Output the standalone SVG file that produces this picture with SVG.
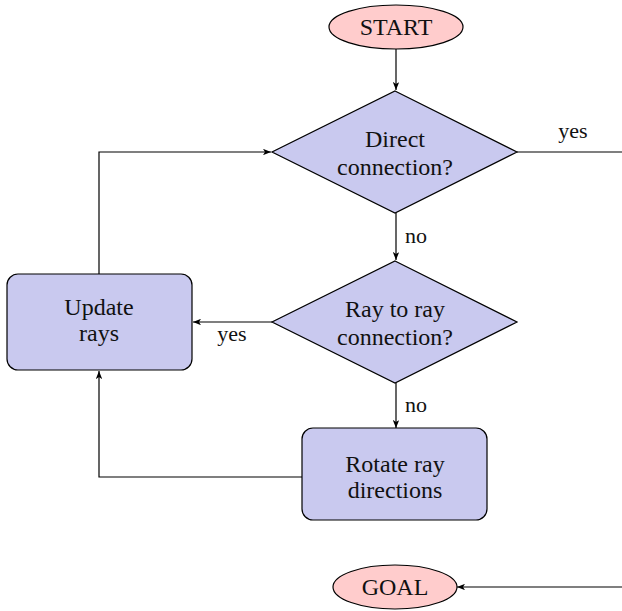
<svg xmlns="http://www.w3.org/2000/svg" width="622" height="611" viewBox="0 0 622 611" font-family="'Liberation Serif', 'DejaVu Serif', 'Times New Roman', serif">
<defs>
<marker id="ah" viewBox="0 0 10 8" refX="10" refY="4" markerWidth="8" markerHeight="6.4" markerUnits="userSpaceOnUse" orient="auto">
<path d="M0,0 L10,4 L0,8 L2.5,4 Z" fill="#000"/>
</marker>
<style>
text{font-family:'Liberation Serif','DejaVu Serif',serif}
.t{font-size:24px;fill:#111;text-anchor:middle}
.l{font-size:22px;fill:#111;text-anchor:middle}
.term{fill:#ffcccc;stroke:#000;stroke-width:1.2}
.proc{fill:#c9c9ef;stroke:#000;stroke-width:1.2}
.c{fill:none;stroke:#000;stroke-width:1.2}
.a{marker-end:url(#ah)}
</style>
</defs>
<g id="connectors">
<line class="c a" x1="396" y1="49" x2="396" y2="90"/>
<line class="c" x1="517" y1="152" x2="622" y2="152"/>
<line class="c a" x1="396" y1="213" x2="396" y2="260"/>
<line class="c a" x1="272" y1="322" x2="193" y2="322"/>
<polyline class="c a" points="99,274 99,152 271,152"/>
<line class="c a" x1="396" y1="383" x2="396" y2="428"/>
<polyline class="c a" points="302,477 99,477 99,371"/>
<line class="c a" x1="622" y1="587" x2="457" y2="587"/>
<text class="l" x="573" y="138">yes</text>
<text class="l" x="416" y="243">no</text>
<text class="l" x="232" y="341">yes</text>
<text class="l" x="416" y="412">no</text>
</g>
<g id="start">
<ellipse class="term" cx="396" cy="27" rx="67" ry="22"/>
<text class="t" x="396" y="35">START</text>
</g>
<g id="direct">
<polygon class="proc" points="395,91 517,152 395,213 272,152"/>
<text class="t" x="395" y="147">Direct</text>
<text class="t" x="395" y="175">connection?</text>
</g>
<g id="raytoray">
<polygon class="proc" points="395,261 517,322 395,383 272,322"/>
<text class="t" x="395" y="317">Ray to ray</text>
<text class="t" x="395" y="345">connection?</text>
</g>
<g id="update">
<rect class="proc" x="7" y="274" width="185" height="96" rx="11"/>
<text class="t" x="99" y="315">Update</text>
<text class="t" x="99" y="341">rays</text>
</g>
<g id="rotate">
<rect class="proc" x="302" y="428" width="185" height="92" rx="11"/>
<text class="t" x="395" y="472">Rotate ray</text>
<text class="t" x="395" y="498">directions</text>
</g>
<g id="goal">
<ellipse class="term" cx="395" cy="587" rx="62" ry="22"/>
<text class="t" x="395" y="595">GOAL</text>
</g>
</svg>
